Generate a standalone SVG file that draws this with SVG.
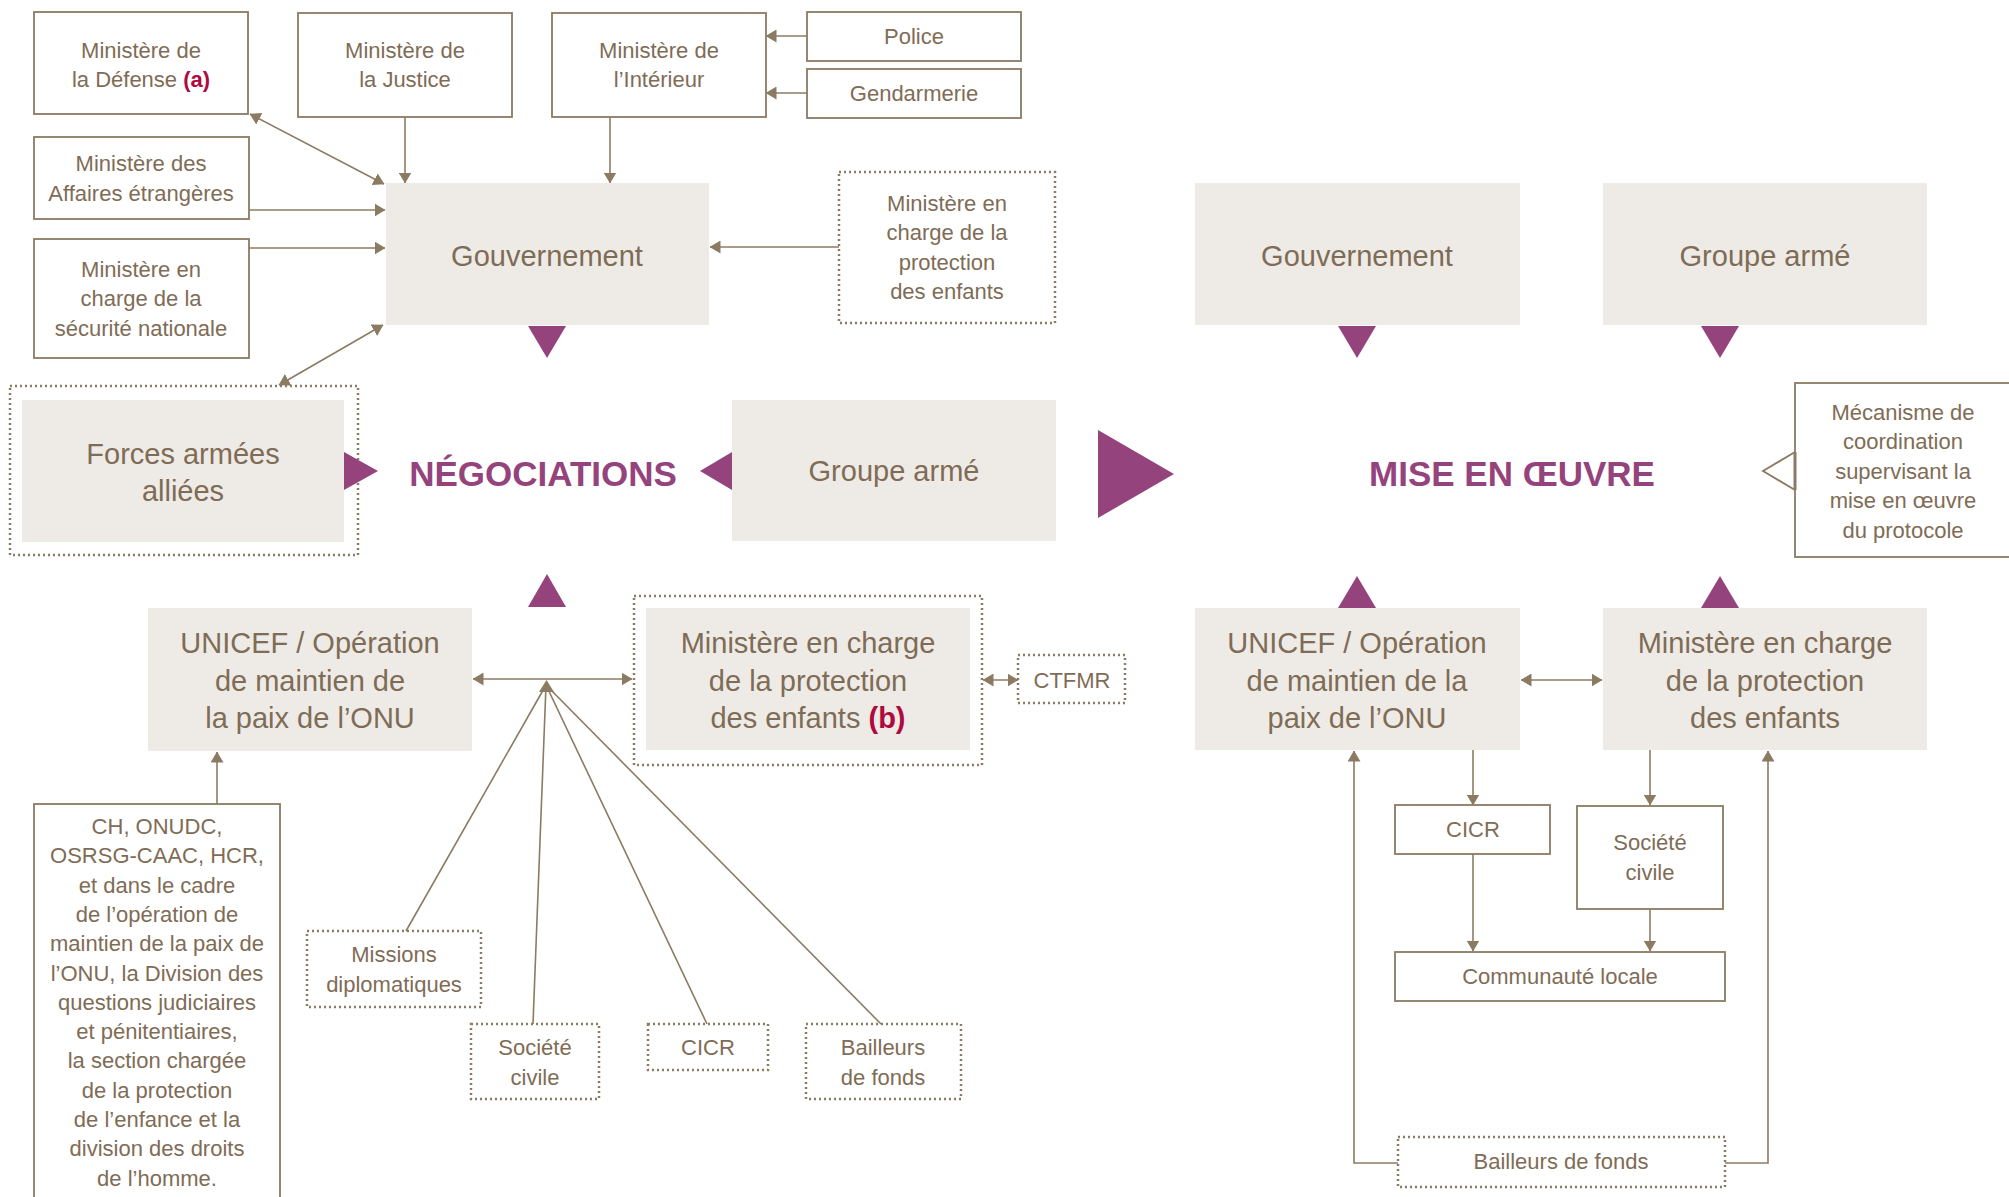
<svg xmlns="http://www.w3.org/2000/svg" width="2009" height="1197" viewBox="0 0 2009 1197">
<defs>
<style>
.box{fill:#fff;stroke:#8C7B63;stroke-width:1.8}
.dot{fill:none;stroke:#8C7B63;stroke-width:2.5;stroke-dasharray:2 3}
.fill{fill:#EEEBE6}
.ln{fill:none;stroke:#8C7B63;stroke-width:1.6}
.pt{fill:#95437D}
text{font-family:"Liberation Sans",Arial,sans-serif;font-size:22px;fill:#7F6C56;text-anchor:middle}
.big{font-size:29px}
.title{font-size:35px;font-weight:bold;fill:#95437D}
.red{fill:#AE0A3F;font-weight:bold}
</style>
<marker id="ah" viewBox="0 0 11 13" refX="10.5" refY="6.5" markerWidth="11" markerHeight="13" markerUnits="userSpaceOnUse" orient="auto-start-reverse">
<path d="M0,0 L11,6.5 L0,13 z" fill="#8C7B63"/>
</marker>
</defs>

<g id="connectors">
<line class="ln" x1="250" y1="114" x2="384" y2="184" marker-start="url(#ah)" marker-end="url(#ah)"/>
<line class="ln" x1="405" y1="117" x2="405" y2="183" marker-end="url(#ah)"/>
<line class="ln" x1="610" y1="117" x2="610" y2="183" marker-end="url(#ah)"/>
<line class="ln" x1="807" y1="36" x2="766" y2="36" marker-end="url(#ah)"/>
<line class="ln" x1="807" y1="93" x2="766" y2="93" marker-end="url(#ah)"/>
<line class="ln" x1="249" y1="210" x2="385" y2="210" marker-end="url(#ah)"/>
<line class="ln" x1="249" y1="248" x2="385" y2="248" marker-end="url(#ah)"/>
<line class="ln" x1="839" y1="247" x2="710" y2="247" marker-end="url(#ah)"/>
<line class="ln" x1="383" y1="325" x2="279" y2="385" marker-start="url(#ah)" marker-end="url(#ah)"/>
<line class="ln" x1="473" y1="679" x2="632" y2="679" marker-start="url(#ah)" marker-end="url(#ah)"/>
<line class="ln" x1="983" y1="680" x2="1018" y2="680" marker-start="url(#ah)" marker-end="url(#ah)"/>
<line class="ln" x1="546" y1="685" x2="406" y2="931"/>
<line class="ln" x1="546" y1="685" x2="533" y2="1024"/>
<line class="ln" x1="546" y1="685" x2="707" y2="1024"/>
<line class="ln" x1="546" y1="685" x2="881" y2="1024"/>
<path d="M546.5,680 L539,692 L554,692 z" fill="#8C7B63"/>
<line class="ln" x1="217" y1="804" x2="217" y2="752" marker-end="url(#ah)"/>
<line class="ln" x1="1521" y1="680" x2="1602" y2="680" marker-start="url(#ah)" marker-end="url(#ah)"/>
<line class="ln" x1="1473" y1="750" x2="1473" y2="805" marker-end="url(#ah)"/>
<line class="ln" x1="1650" y1="750" x2="1650" y2="805" marker-end="url(#ah)"/>
<line class="ln" x1="1473" y1="854" x2="1473" y2="951" marker-end="url(#ah)"/>
<line class="ln" x1="1650" y1="909" x2="1650" y2="951" marker-end="url(#ah)"/>
<polyline class="ln" points="1398,1163 1354,1163 1354,751" marker-end="url(#ah)"/>
<polyline class="ln" points="1725,1163 1768,1163 1768,751" marker-end="url(#ah)"/>
</g>

<g id="n-defense"><rect class="box" x="34" y="12" width="214" height="102"/><text x="141" y="58">Ministère de</text><text x="141" y="87">la Défense <tspan class="red">(a)</tspan></text></g>
<g id="n-justice"><rect class="box" x="298" y="13" width="214" height="104"/><text x="405" y="58">Ministère de</text><text x="405" y="87">la Justice</text></g>
<g id="n-interieur"><rect class="box" x="552" y="13" width="214" height="104"/><text x="659" y="58">Ministère de</text><text x="659" y="87">l’Intérieur</text></g>
<g id="n-police"><rect class="box" x="807" y="12" width="214" height="49"/><text x="914" y="44">Police</text></g>
<g id="n-gendarmerie"><rect class="box" x="807" y="69" width="214" height="49"/><text x="914" y="101">Gendarmerie</text></g>
<g id="n-affaires"><rect class="box" x="34" y="137" width="215" height="82"/><text x="141" y="171">Ministère des</text><text x="141" y="201">Affaires étrangères</text></g>
<g id="n-securite"><rect class="box" x="34" y="239" width="215" height="119"/><text x="141" y="277">Ministère en</text><text x="141" y="306">charge de la</text><text x="141" y="336">sécurité nationale</text></g>
<g id="n-gouv-neg"><rect class="fill" x="386" y="183" width="323" height="142"/><text class="big" x="547" y="266">Gouvernement</text></g>
<g id="n-protection-top"><rect class="dot" x="839" y="172" width="216" height="151"/><text x="947" y="211">Ministère en</text><text x="947" y="240">charge de la</text><text x="947" y="270">protection</text><text x="947" y="299">des enfants</text></g>
<g id="n-forces"><rect class="dot" x="10" y="386" width="348" height="169"/><rect class="fill" x="22" y="400" width="322" height="142"/><text class="big" x="183" y="464">Forces armées</text><text class="big" x="183" y="501">alliées</text></g>
<g id="n-negociations"><text class="title" x="543" y="486">NÉGOCIATIONS</text></g>
<g id="n-groupe-neg"><rect class="fill" x="732" y="400" width="324" height="141"/><text class="big" x="894" y="481">Groupe armé</text></g>
<g id="n-gouv-mise"><rect class="fill" x="1195" y="183" width="325" height="142"/><text class="big" x="1357" y="266">Gouvernement</text></g>
<g id="n-groupe-mise"><rect class="fill" x="1603" y="183" width="324" height="142"/><text class="big" x="1765" y="266">Groupe armé</text></g>
<g id="n-mise"><text class="title" x="1512" y="486">MISE EN ŒUVRE</text></g>
<g id="n-mecanisme"><rect class="box" x="1795" y="383" width="220" height="174"/><polyline points="1795,452 1763,471 1795,490" fill="#fff" stroke="#8C7B63" stroke-width="1.8"/><line x1="1795" y1="452" x2="1795" y2="490" stroke="#8C7B63" stroke-width="3"/><text x="1903" y="420">Mécanisme de</text><text x="1903" y="449">coordination</text><text x="1903" y="479">supervisant la</text><text x="1903" y="508">mise en œuvre</text><text x="1903" y="538">du protocole</text></g>
<g id="n-unicef-neg"><rect class="fill" x="148" y="608" width="324" height="143"/><text class="big" x="310" y="653">UNICEF / Opération</text><text class="big" x="310" y="691">de maintien de</text><text class="big" x="310" y="728">la paix de l’ONU</text></g>
<g id="n-protection-neg"><rect class="dot" x="634" y="596" width="348" height="169"/><rect class="fill" x="646" y="608" width="324" height="142"/><text class="big" x="808" y="653">Ministère en charge</text><text class="big" x="808" y="691">de la protection</text><text class="big" x="808" y="728">des enfants <tspan class="red">(b)</tspan></text></g>
<g id="n-ctfmr"><rect class="dot" x="1018" y="655" width="107" height="48"/><text x="1072" y="688">CTFMR</text></g>
<g id="n-ch"><rect class="box" x="34" y="804" width="246" height="420"/>
<text x="157" y="834">CH, ONUDC,</text><text x="157" y="863">OSRSG-CAAC, HCR,</text><text x="157" y="893">et dans le cadre</text><text x="157" y="922">de l’opération de</text><text x="157" y="951">maintien de la paix de</text><text x="157" y="981">l’ONU, la Division des</text><text x="157" y="1010">questions judiciaires</text><text x="157" y="1039">et pénitentiaires,</text><text x="157" y="1068">la section chargée</text><text x="157" y="1098">de la protection</text><text x="157" y="1127">de l’enfance et la</text><text x="157" y="1156">division des droits</text><text x="157" y="1186">de l’homme.</text></g>
<g id="n-missions"><rect class="dot" x="307" y="931" width="174" height="76"/><text x="394" y="962">Missions</text><text x="394" y="992">diplomatiques</text></g>
<g id="n-societe-neg"><rect class="dot" x="471" y="1024" width="128" height="75"/><text x="535" y="1055">Société</text><text x="535" y="1085">civile</text></g>
<g id="n-cicr-neg"><rect class="dot" x="648" y="1024" width="120" height="46"/><text x="708" y="1055">CICR</text></g>
<g id="n-bailleurs-neg"><rect class="dot" x="806" y="1024" width="155" height="75"/><text x="883" y="1055">Bailleurs</text><text x="883" y="1085">de fonds</text></g>
<g id="n-unicef-mise"><rect class="fill" x="1195" y="608" width="325" height="142"/><text class="big" x="1357" y="653">UNICEF / Opération</text><text class="big" x="1357" y="691">de maintien de la</text><text class="big" x="1357" y="728">paix de l’ONU</text></g>
<g id="n-protection-mise"><rect class="fill" x="1603" y="608" width="324" height="142"/><text class="big" x="1765" y="653">Ministère en charge</text><text class="big" x="1765" y="691">de la protection</text><text class="big" x="1765" y="728">des enfants</text></g>
<g id="n-cicr-mise"><rect class="box" x="1395" y="805" width="155" height="49"/><text x="1473" y="837">CICR</text></g>
<g id="n-societe-mise"><rect class="box" x="1577" y="806" width="146" height="103"/><text x="1650" y="850">Société</text><text x="1650" y="880">civile</text></g>
<g id="n-communaute"><rect class="box" x="1395" y="952" width="330" height="49"/><text x="1560" y="984">Communauté locale</text></g>
<g id="n-bailleurs-mise"><rect class="dot" x="1398" y="1137" width="327" height="50"/><text x="1561" y="1169">Bailleurs de fonds</text></g>

<g id="phase-markers">
<polygon class="pt" points="528,326 566,326 547,358"/>
<polygon class="pt" points="344,452 344,490 378,471"/>
<polygon class="pt" points="732,452 732,490 700,471"/>
<polygon class="pt" points="547,574 528,607 566,607"/>
<polygon class="pt" points="1098,430 1098,518 1174,474"/>
<polygon class="pt" points="1338,326 1376,326 1357,358"/>
<polygon class="pt" points="1701,326 1739,326 1720,358"/>
<polygon class="pt" points="1357,576 1338,608 1376,608"/>
<polygon class="pt" points="1720,576 1701,608 1739,608"/>
</g>
</svg>
